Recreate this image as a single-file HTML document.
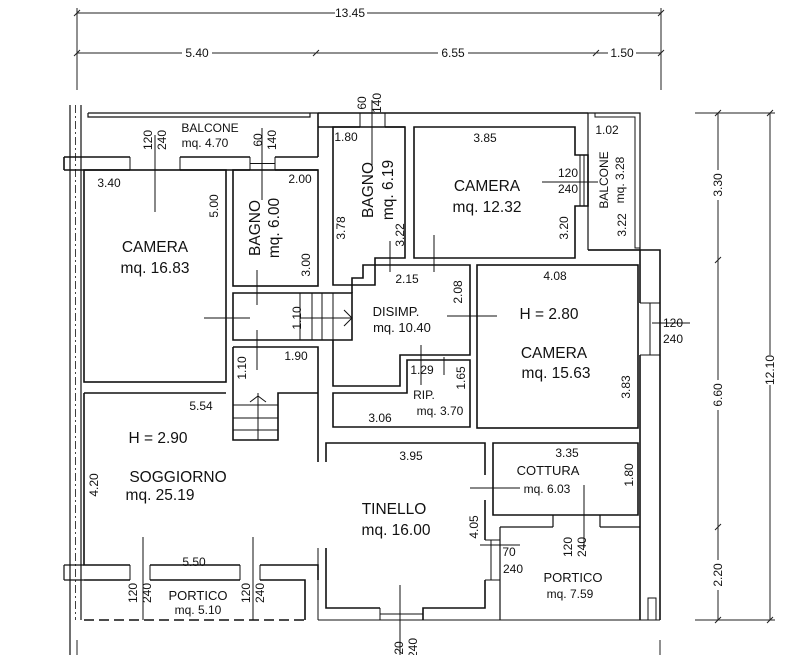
<!DOCTYPE html>
<html><head><meta charset="utf-8"><style>
html,body{margin:0;padding:0;background:#fff}
svg{display:block}
text{font-family:"Liberation Sans",sans-serif;fill:#111}
.d{font-size:12px}
.r{font-size:15.5px}
.s{font-size:13px}
</style></head><body>
<svg width="786" height="655" viewBox="0 0 786 655" xmlns="http://www.w3.org/2000/svg">
<g stroke="#222" stroke-width="1" fill="none">
<line x1="77" y1="13" x2="661" y2="13"/>
<line x1="77" y1="53" x2="661" y2="53"/>
<line x1="77" y1="8" x2="77" y2="90"/>
<line x1="661" y1="8" x2="661" y2="90"/>
<path d="M74 16l6-6M658 16l6-6M74 56l6-6M313 56l6-6M593 56l6-6M658 56l6-6"/>
<line x1="718" y1="113" x2="718" y2="620"/>
<line x1="770" y1="113" x2="770" y2="620"/>
<line x1="695" y1="113" x2="775" y2="113"/>
<line x1="695" y1="620" x2="775" y2="620"/>
<path d="M715 116l6-6M767 116l6-6M715 263l6-6M715 530l6-6M715 623l6-6M767 623l6-6"/>
<line x1="77" y1="640" x2="77" y2="655"/><line x1="660" y1="640" x2="660" y2="655"/>
</g>
<g stroke="#111" stroke-width="1.6" fill="none">
<line x1="70" y1="105" x2="70" y2="655" stroke-width="1.2"/>
<line x1="81" y1="105" x2="81" y2="620" stroke-width="1.2"/>
<line x1="75.5" y1="105" x2="75.5" y2="620" stroke-width="0.8" stroke-dasharray="8 3 2 3"/>
<path d="M88 113H318M88 113v4H310v-4" stroke-width="1.2"/>
<line x1="318" y1="113" x2="318" y2="157"/>
<path d="M64 157H130M180 157H250M275 157H318"/>
<path d="M64 170H130M180 170H250M275 170H318"/>
<line x1="64" y1="157" x2="64" y2="170"/>
<path d="M64 565H84M64 580H84M64 565v15" stroke-width="1.2"/>
<path d="M130 157v13M180 157v13M250 157v13M275 157v13M250 163.5h25" stroke-width="1"/>
<rect x="84" y="170" width="142" height="212"/>
<rect x="233" y="170" width="85" height="116"/>
<path d="M233 293H352V340H233Z"/>
<path d="M300 293v47M312 293v47M322 293v47M333 293v47M300 318h52M344 310l8 8-8 8" stroke-width="1"/>
<path d="M233 347H318V462M233 347V440H278V393H318"/>
<path d="M233 405h45M233 418h45M233 430h45M258 393v47M250 402l8-6 8 6" stroke-width="1"/>
<path d="M318 113H588M318 127H360M385 127H405"/>
<path d="M360 113v14M385 113v14" stroke-width="1"/>
<path d="M333 127H405V258H375V285H333Z"/>
<path d="M414 127H575V155H588V206H575V258H414Z"/>
<path d="M580 155v51M584 155v51" stroke-width="1"/>
<path d="M588 113H640V250H588M588 113V250" stroke-width="1.2"/>
<path d="M595 113v4h40v131h5" stroke-width="1"/>
<path d="M588 250H660V620M640 250V303M640 355V620"/>
<path d="M640 303h20M640 355h20M650 303v52" stroke-width="1"/>
<path d="M352 293V278H363V265H470V355H400V386H333V340"/>
<path d="M333 393H407V360H470V427H333Z"/>
<rect x="477" y="265" width="161" height="163"/>
<path d="M84 393H226M84 393V565H130M150 565H240M260 565H318V580"/>
<path d="M84 580H130M150 580H240M260 580H305V620"/>
<path d="M130 565v15M150 565v15M240 565v15M260 565v15" stroke-width="1"/>
<line x1="84" y1="620" x2="305" y2="620" stroke-dasharray="10 5"/>
<path d="M326 462V443H485V475M485 500V540M485 580V608H423V620M380 608H326V548"/>
<path d="M380 608v12M423 608v12M380 614h43M318 548v72M318 620H660" stroke-width="1"/>
<path d="M493 443H638V515H493Z"/>
<path d="M500 527H553M600 527H640M500 527V620M553 515v12M600 515v12" stroke-width="1.2"/>
<path d="M485 540h15M485 580h15M491 540v40" stroke-width="1"/>
<rect x="648" y="598" width="8" height="22" stroke-width="1"/>
</g>
<g stroke="#111" stroke-width="1" fill="none">
<path d="M155 135V212M262 128V200M372 100V165M542 182H598M390 241V272M434 235V272M204 318H250M257 270V305M257 330V370M447 316H497M652 323H690M421 345V385M444 357V375M143 537V620M253 537V620M470 488H520M584 485V548M480 545H520M400 585V655"/>
</g>
<g class="d" text-anchor="middle">
<rect x="335" y="6" width="32" height="13" fill="#fff"/><text x="350" y="17">13.45</text>
<rect x="182" y="46" width="30" height="13" fill="#fff"/><text x="197" y="57">5.40</text>
<rect x="438" y="46" width="30" height="13" fill="#fff"/><text x="453" y="57">6.55</text>
<rect x="608" y="46" width="28" height="13" fill="#fff"/><text x="622" y="57">1.50</text>
<rect x="712" y="170" width="13" height="30" fill="#fff"/><text transform="translate(722,185) rotate(-90)">3.30</text>
<rect x="712" y="380" width="13" height="30" fill="#fff"/><text transform="translate(722,395) rotate(-90)">6.60</text>
<rect x="712" y="560" width="13" height="30" fill="#fff"/><text transform="translate(722,575) rotate(-90)">2.20</text>
<rect x="764" y="355" width="13" height="30" fill="#fff"/><text transform="translate(774,370) rotate(-90)">12.10</text>
<text x="109" y="187">3.40</text>
<text transform="translate(218,206) rotate(-90)">5.00</text>
<text x="300" y="183">2.00</text>
<text transform="translate(310,265) rotate(-90)">3.00</text>
<text x="346" y="141">1.80</text>
<text transform="translate(345,228) rotate(-90)">3.78</text>
<text transform="translate(404,235) rotate(-90)">3.22</text>
<text x="485" y="142">3.85</text>
<text x="568" y="177">120</text><text x="568" y="193">240</text>
<text transform="translate(568,228) rotate(-90)">3.20</text>
<text x="607" y="134">1.02</text>
<text transform="translate(626,225) rotate(-90)">3.22</text>
<text x="407" y="283">2.15</text>
<text transform="translate(462,292) rotate(-90)">2.08</text>
<text x="555" y="280">4.08</text>
<text transform="translate(630,387) rotate(-90)">3.83</text>
<text x="673" y="327">120</text><text x="673" y="343">240</text>
<text transform="translate(301,318) rotate(-90)">1.10</text>
<text x="296" y="360">1.90</text>
<text transform="translate(246,368) rotate(-90)">1.10</text>
<text x="422" y="374">1.29</text>
<text transform="translate(465,378) rotate(-90)">1.65</text>
<text x="380" y="422">3.06</text>
<text x="201" y="410">5.54</text>
<text transform="translate(98,485) rotate(-90)">4.20</text>
<text x="411" y="460">3.95</text>
<text transform="translate(478,527) rotate(-90)">4.05</text>
<text x="567" y="457">3.35</text>
<text transform="translate(633,475) rotate(-90)">1.80</text>
<text x="194" y="566">5.50</text>
<text x="509" y="556">70</text><text x="513" y="573">240</text>
<text transform="translate(152,140) rotate(-90)">120</text><text transform="translate(166,140) rotate(-90)">240</text>
<text transform="translate(262,140) rotate(-90)">60</text><text transform="translate(276,140) rotate(-90)">140</text>
<text transform="translate(366,103) rotate(-90)">60</text><text transform="translate(381,103) rotate(-90)">140</text>
<text transform="translate(137,593) rotate(-90)">120</text><text transform="translate(151,593) rotate(-90)">240</text>
<text transform="translate(250,593) rotate(-90)">120</text><text transform="translate(264,593) rotate(-90)">240</text>
<text transform="translate(572,547) rotate(-90)">120</text><text transform="translate(586,547) rotate(-90)">240</text>
<text transform="translate(403,648) rotate(-90)">20</text><text transform="translate(417,648) rotate(-90)">240</text>
</g>
<g text-anchor="middle">
<text class="d" x="210" y="132">BALCONE</text><text class="d" x="205" y="147">mq. 4.70</text>
<text class="r" x="155" y="252">CAMERA</text><text class="r" x="155" y="273">mq. 16.83</text>
<text class="r" transform="translate(260,228) rotate(-90)">BAGNO</text><text class="r" transform="translate(279,228) rotate(-90)">mq. 6.00</text>
<text class="r" transform="translate(373,190) rotate(-90)">BAGNO</text><text class="r" transform="translate(393,190) rotate(-90)">mq. 6.19</text>
<text class="r" x="487" y="191">CAMERA</text><text class="r" x="487" y="212">mq. 12.32</text>
<text class="d" transform="translate(608,180) rotate(-90)">BALCONE</text><text class="d" transform="translate(624,180) rotate(-90)">mq. 3.28</text>
<text class="s" x="396" y="316">DISIMP.</text><text class="s" x="402" y="332">mq. 10.40</text>
<text class="r" x="549" y="319">H = 2.80</text>
<text class="r" x="554" y="358">CAMERA</text><text class="r" x="556" y="378">mq. 15.63</text>
<text class="d" x="424" y="399">RIP.</text><text class="d" x="440" y="415">mq. 3.70</text>
<text class="r" x="158" y="443">H = 2.90</text>
<text class="r" x="178" y="482">SOGGIORNO</text><text class="r" x="160" y="500">mq. 25.19</text>
<text class="r" x="394" y="514">TINELLO</text><text class="r" x="396" y="535">mq. 16.00</text>
<text class="s" x="548" y="475">COTTURA</text><text class="d" x="547" y="493">mq. 6.03</text>
<text class="s" x="198" y="600">PORTICO</text><text class="d" x="198" y="614">mq. 5.10</text>
<text class="s" x="573" y="582">PORTICO</text><text class="d" x="570" y="598">mq. 7.59</text>
</g>
</svg>
</body></html>
